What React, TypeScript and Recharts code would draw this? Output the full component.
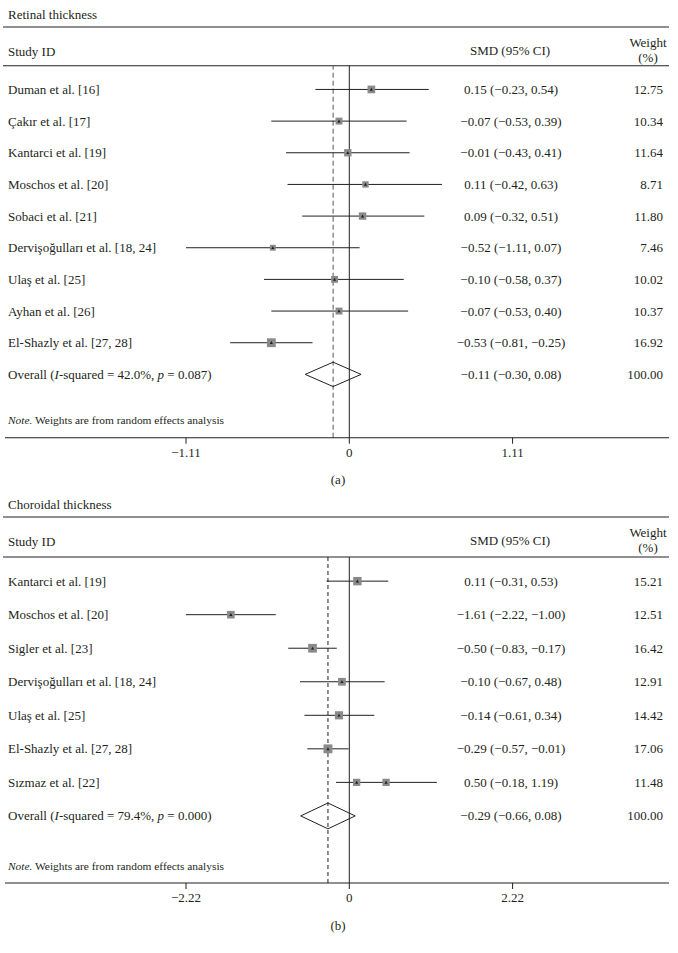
import { ComposedChart, Scatter, XAxis, YAxis, ErrorBar, ReferenceLine, Customized } from "recharts";

const INK = "#231f20";
const FONT = "'Liberation Serif', 'Times New Roman', serif";
const FS = 13;

// (a) retinal thickness
const retinalStudies = [
  "Duman et al. [16]",
  "Çakır et al. [17]",
  "Kantarci et al. [19]",
  "Moschos et al. [20]",
  "Sobaci et al. [21]",
  "Dervişoğulları et al. [18, 24]",
  "Ulaş et al. [25]",
  "Ayhan et al. [26]",
  "El-Shazly et al. [27, 28]",
];
const retinalSmd = [0.15, -0.07, -0.01, 0.11, 0.09, -0.52, -0.1, -0.07, -0.53];
const retinalLow = [-0.23, -0.53, -0.43, -0.42, -0.32, -1.11, -0.58, -0.53, -0.81];
const retinalHigh = [0.54, 0.39, 0.41, 0.63, 0.51, 0.07, 0.37, 0.4, -0.25];
const retinalWeight = [12.75, 10.34, 11.64, 8.71, 11.8, 7.46, 10.02, 10.37, 16.92];
const retinalOverall = [-0.11, -0.3, 0.08]; // smd, low, high
const retinalHet = ["42.0%", "0.087"];
const retinalTicks = [-1.11, 0, 1.11];

// (b) choroidal thickness
const choroidStudies = [
  "Kantarci et al. [19]",
  "Moschos et al. [20]",
  "Sigler et al. [23]",
  "Dervişoğulları et al. [18, 24]",
  "Ulaş et al. [25]",
  "El-Shazly et al. [27, 28]",
  "Sızmaz et al. [22]",
];
const choroidSmd = [0.11, -1.61, -0.5, -0.1, -0.14, -0.29, 0.5];
const choroidLow = [-0.31, -2.22, -0.83, -0.67, -0.61, -0.57, -0.18];
const choroidHigh = [0.53, -1.0, -0.17, 0.48, 0.34, -0.01, 1.19];
const choroidWeight = [15.21, 12.51, 16.42, 12.91, 14.42, 17.06, 11.48];
const choroidOverall = [-0.29, -0.66, 0.08];
const choroidHet = ["79.4%", "0.000"];
const choroidTicks = [-2.22, 0, 2.22];
// second box printed on the Sızmaz row in the original figure
const choroidStray = [{ row: 6, x: 0.1, w: 11.48 }];

const fmt = (v: number) => (v === 0 ? "0" : (v < 0 ? "\u2212" : "") + Math.abs(v).toFixed(2));
const ciText = (m: number, lo: number, hi: number) => `${fmt(m)} (${fmt(lo)}, ${fmt(hi)})`;

const StudyMark = (p: any) => {
  const { cx, cy, payload } = p;
  if (cx == null || cy == null) return <g />;
  const s = 2.15 * Math.sqrt(payload.w);
  return (
    <g>
      <rect x={cx - s / 2} y={cy - s / 2} width={s} height={s} fill="#8a8a8a" />
      <path d={`M${cx - 1.6},${cy + 1.3} L${cx + 1.6},${cy + 1.3} L${cx},${cy - 1.6} Z`} fill={INK} />
    </g>
  );
};

const RowText = (p: any) => {
  const { cy, payload } = p;
  if (cy == null) return <g />;
  return (
    <g fontFamily={FONT} fontSize={FS} fill={INK}>
      <text x={8} y={cy} dy="0.35em">
        {payload.overall ? (
          <>
            {"Overall ("}
            <tspan fontStyle="italic">I</tspan>
            {`-squared = ${payload.het[0]}, `}
            <tspan fontStyle="italic">p</tspan>
            {` = ${payload.het[1]})`}
          </>
        ) : (
          payload.name
        )}
      </text>
      <text x={511} y={cy} dy="0.35em" textAnchor="middle">
        {payload.ci}
      </text>
      <text x={663} y={cy} dy="0.35em" textAnchor="end">
        {payload.wText}
      </text>
    </g>
  );
};

const Frame = (p: any) => {
  const g = p.geo;
  return (
    <g fontFamily={FONT} fill={INK} fontSize={FS}>
      <text x={8} y={g.titleY} dy="0.35em">{p.title}</text>
      <line x1={3} x2={669} y1={g.ruleTop} y2={g.ruleTop} stroke={INK} strokeWidth={1.1} />
      <text x={8} y={g.headY} dy="0.35em">Study ID</text>
      <text x={510} y={g.headY - 1} dy="0.35em" textAnchor="middle">SMD (95% CI)</text>
      <text x={648} y={g.headY - 9} dy="0.35em" textAnchor="middle">Weight</text>
      <text x={648} y={g.headY + 6} dy="0.35em" textAnchor="middle">(%)</text>
      <line x1={3} x2={669} y1={g.top} y2={g.top} stroke={INK} strokeWidth={1.1} />
      <text x={8} y={g.noteY} dy="0.35em" fontSize={11.4}>
        <tspan fontStyle="italic">Note.</tspan> Weights are from random effects analysis
      </text>
      <text x={338} y={g.captionY} dy="0.35em" textAnchor="middle">{p.caption}</text>
    </g>
  );
};

function Panel(props: any) {
  const { studies, smd, low, high, weight, overall, het, ticks, geo, stray } = props;
  const n = studies.length;
  const rows = studies.map((name: string, i: number) => ({
    x: smd[i],
    y: i,
    err: [smd[i] - low[i], high[i] - smd[i]],
    w: weight[i],
    name,
    ci: ciText(smd[i], low[i], high[i]),
    wText: weight[i].toFixed(2),
  }));
  const labels = [
    ...rows,
    { x: overall[0], y: n, overall: true, het, ci: ciText(overall[0], overall[1], overall[2]), wText: "100.00" },
  ];
  const h = 0.385;
  const diamond = [
    { x: overall[1], y: n },
    { x: overall[0], y: n - h },
    { x: overall[2], y: n },
    { x: overall[0], y: n + h },
    { x: overall[1], y: n },
  ];
  const strayPts = (stray || []).map((s: any) => ({ x: s.x, y: s.row, w: s.w }));

  return (
    <ComposedChart
      width={678}
      height={geo.height}
      margin={{ top: geo.top, right: 9, left: 5, bottom: geo.height - geo.bottom - 30 }}
    >
      <XAxis
        type="number"
        dataKey="x"
        domain={geo.xDomain}
        allowDataOverflow
        ticks={ticks}
        interval={0}
        height={30}
        tickFormatter={fmt}
        axisLine={{ stroke: INK, strokeWidth: 1.1 }}
        tickLine={{ stroke: INK }}
        tickSize={6}
        tickMargin={4}
        tick={{ fontSize: FS, fill: INK, fontFamily: FONT }}
      />
      <YAxis type="number" dataKey="y" domain={geo.yDomain} allowDataOverflow reversed hide />
      <ReferenceLine x={overall[0]} stroke={geo.dashColor} strokeDasharray={geo.dash} />
      <ReferenceLine x={0} stroke={INK} />
      <Scatter data={rows} shape={StudyMark} isAnimationActive={false}>
        <ErrorBar dataKey="err" direction="x" width={0} stroke={INK} strokeWidth={1} />
      </Scatter>
      <Scatter data={strayPts} shape={StudyMark} isAnimationActive={false} />
      <Scatter
        data={diamond}
        line={{ stroke: INK, strokeWidth: 1 }}
        lineJointType="linear"
        shape={() => <g />}
        isAnimationActive={false}
      />
      <Scatter data={labels} shape={RowText} isAnimationActive={false} />
      <Customized component={<Frame geo={geo} title={props.title} caption={props.caption} />} />
    </ComposedChart>
  );
}

const geoA = {
  height: 490,
  top: 65.7,
  bottom: 437.7,
  titleY: 14,
  ruleTop: 27,
  headY: 51,
  noteY: 420,
  captionY: 479.5,
  xDomain: [-2.3406, 2.1734],
  yDomain: [-0.75, 11],
  dash: "5 3",
  dashColor: "#555",
};

const geoB = {
  height: 463,
  top: 67,
  bottom: 393,
  titleY: 14,
  ruleTop: 27,
  headY: 51,
  noteY: 376,
  captionY: 435,
  xDomain: [-4.6806, 4.3462],
  yDomain: [-0.72, 9],
  dash: "4 3",
  dashColor: INK,
};

export default function App() {
  return (
    <div style={{ position: "absolute", left: 0, top: 0, width: 678, height: 953, background: "#fff" }}>
      <div style={{ position: "absolute", left: 0, top: 0 }}>
        <Panel
          title="Retinal thickness"
          caption="(a)"
          studies={retinalStudies}
          smd={retinalSmd}
          low={retinalLow}
          high={retinalHigh}
          weight={retinalWeight}
          overall={retinalOverall}
          het={retinalHet}
          ticks={retinalTicks}
          geo={geoA}
        />
      </div>
      <div style={{ position: "absolute", left: 0, top: 490 }}>
        <Panel
          title="Choroidal thickness"
          caption="(b)"
          studies={choroidStudies}
          smd={choroidSmd}
          low={choroidLow}
          high={choroidHigh}
          weight={choroidWeight}
          overall={choroidOverall}
          het={choroidHet}
          ticks={choroidTicks}
          geo={geoB}
          stray={choroidStray}
        />
      </div>
    </div>
  );
}
